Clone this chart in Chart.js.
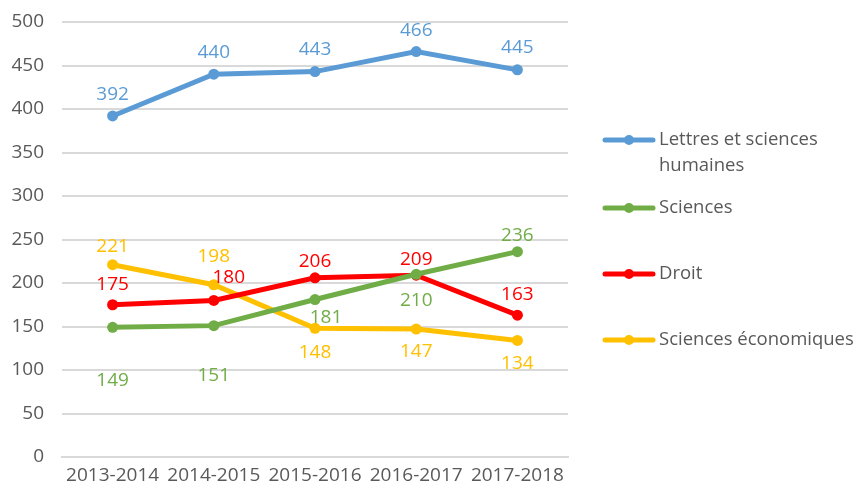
<!DOCTYPE html>
<html>
<head>
<meta charset="utf-8">
<script src="https://cdn.jsdelivr.net/npm/chart.js@4.4.0/dist/chart.umd.min.js"></script>
<style>
  html, body { margin: 0; padding: 0; background: #fff; }
  #wrap { width: 857px; height: 492px; position: relative; }
</style>
</head>
<body>
<div id="wrap"><canvas id="chart"></canvas></div>
<script>
// data
const categories = ["2013-2014", "2014-2015", "2015-2016", "2016-2017", "2017-2018"];
const lettres = [392, 440, 443, 466, 445];
const sciences = [149, 151, 181, 210, 236];
const droit = [175, 180, 206, 209, 163];
const eco = [221, 198, 148, 147, 134];
const seriesNames = [["Lettres et sciences", "humaines"], ["Sciences"], ["Droit"], ["Sciences économiques"]];
const yTicks = { min: 0, max: 500, step: 50 };

const colors = ["#5B9BD5", "#70AD47", "#FF0000", "#FFC000"];
const FONT = "'Open Sans', sans-serif";

// label offsets from the point (dx, dy), per series
const labelOffsets = [
  [[0, -21], [0, -22], [0, -22], [0, -21], [0, -22]],
  [[0, 53], [0, 50], [11, 18], [0, 26], [0, -16]],
  [[0, -20], [15, -23], [0, -16], [0, -16], [0, -21]],
  [[0, -18], [0, -28], [0, 24], [0, 22], [0, 23]]
];

const labelPlugin = {
  id: "pointLabels",
  afterDatasetsDraw(chart) {
    const ctx = chart.ctx;
    ctx.save();
    ctx.font = "19px " + FONT;
    ctx.textAlign = "center";
    ctx.textBaseline = "middle";
    chart.data.datasets.forEach((ds, i) => {
      chart.getDatasetMeta(i).data.forEach((pt, j) => {
        const off = labelOffsets[i][j];
        ctx.fillStyle = colors[i];
        ctx.fillText(ds.data[j], pt.x + off[0], pt.y + off[1]);
      });
    });
    ctx.restore();
  }
};

const legendPlugin = {
  id: "sideLegend",
  afterDraw(chart) {
    const ctx = chart.ctx;
    const rows = [140, 208, 274, 340];
    ctx.save();
    ctx.font = "18.5px " + FONT;
    ctx.textBaseline = "middle";
    ctx.textAlign = "left";
    rows.forEach((y, i) => {
      ctx.strokeStyle = colors[i];
      ctx.lineWidth = 5;
      ctx.lineCap = "round";
      ctx.beginPath();
      ctx.moveTo(605, y);
      ctx.lineTo(653, y);
      ctx.stroke();
      ctx.fillStyle = colors[i];
      ctx.beginPath();
      ctx.arc(629, y, 5, 0, Math.PI * 2);
      ctx.fill();
      ctx.fillStyle = "#595959";
      seriesNames[i].forEach((t, k) => ctx.fillText(t, 659, y + k * 26));
    });
    ctx.restore();
  }
};

const mk = (label, data, c) => ({
  label, data,
  borderColor: c, backgroundColor: c,
  borderWidth: 5, pointRadius: 5.5, pointHoverRadius: 5.5, pointBorderWidth: 0,
  pointBackgroundColor: c, pointBorderColor: c, tension: 0
});

new Chart(document.getElementById("chart"), {
  type: "line",
  data: {
    labels: categories,
    datasets: [
      mk(seriesNames[0].join(" "), lettres, colors[0]),
      mk(seriesNames[1][0], sciences, colors[1]),
      mk(seriesNames[2][0], droit, colors[2]),
      mk(seriesNames[3][0], eco, colors[3])
    ]
  },
  options: {
    responsive: true,
    maintainAspectRatio: false,
    animation: false,
    layout: { padding: { top: 22, right: 289, left: 0, bottom: 0 } },
    plugins: { legend: { display: false }, tooltip: { enabled: false } },
    scales: {
      x: {
        offset: true,
        grid: { display: false, drawTicks: false },
        border: { color: "#d9d9d9", width: 2 },
        ticks: { color: "#595959", font: { family: FONT, size: 19 }, padding: 7, maxRotation: 0 },
        afterFit(s) { s.height = 35; s.paddingLeft = 0; s.paddingRight = 0; }
      },
      y: {
        min: yTicks.min, max: yTicks.max,
        grid: { color: "#d9d9d9", lineWidth: 2, drawTicks: false },
        border: { display: false },
        ticks: { stepSize: yTicks.step, color: "#595959", font: { family: FONT, size: 19 }, padding: 18 },
        afterFit(s) { s.width = 62; s.paddingTop = 0; s.paddingBottom = 0; }
      }
    }
  },
  plugins: [labelPlugin, legendPlugin]
});
</script>
</body>
</html>
